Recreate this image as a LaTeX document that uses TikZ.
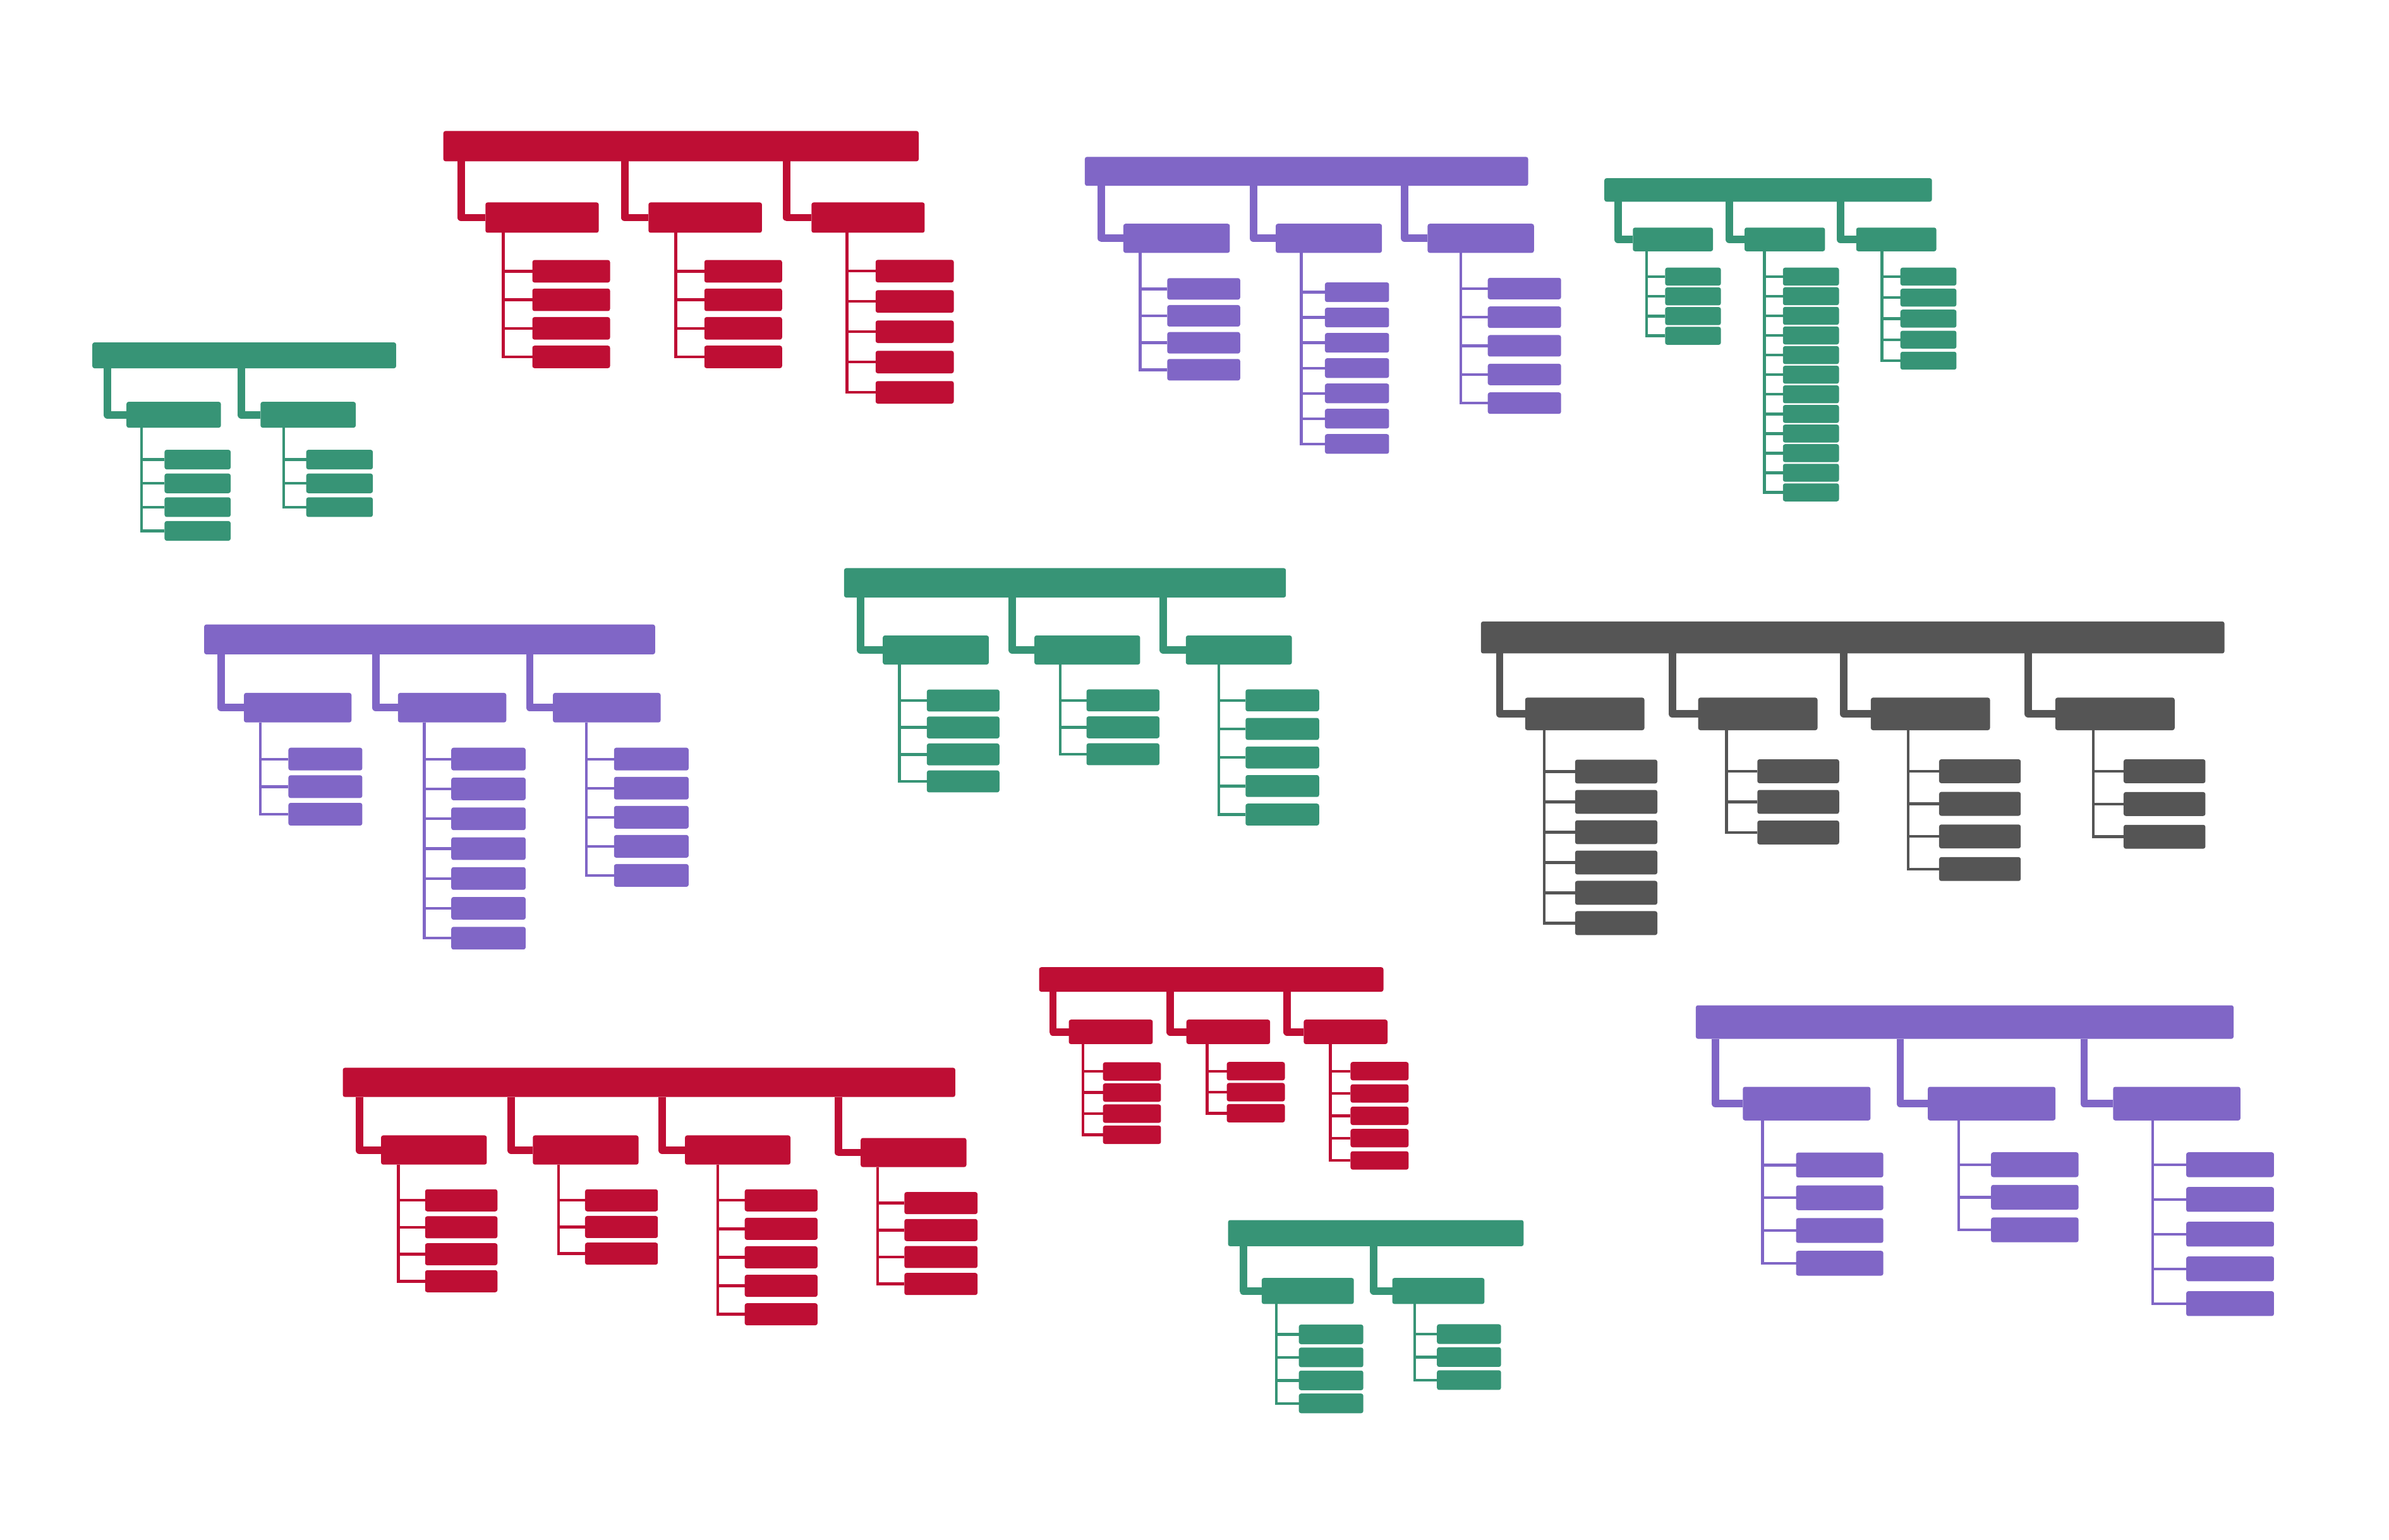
\documentclass[tikz,border=0pt]{standalone}
\usepackage{tikz}
\definecolor{redc}{RGB}{190,14,52}
\definecolor{purc}{RGB}{128,102,198}
\definecolor{grnc}{RGB}{55,148,118}
\definecolor{gryc}{RGB}{85,85,85}

\tikzset{
  orgbox/.style={fill=#1, rounded corners=1pt, inner sep=0pt, outer sep=0pt},
  bus/.style={draw=#1, line width=3.5pt, line join=round},
  twig/.style={draw=#1, line width=1.3pt},
}

% box from its corners: colour, name, x1, y1, x2, y2
\newcommand\orgbox[6]{\node[orgbox=#1, minimum width={((#5)-(#3))*0.25mm},
  minimum height={((#6)-(#4))*0.25mm}] (#2) at ({((#3)+(#5))/2},{((#4)+(#6))/2}) {};}
% child box and its elbow from the root: colour, root, name, x1, x2, elbow x, y1, y2
\newcommand\kid[8]{\orgbox{#1}{#3}{#4}{#7}{#5}{#8}
  \coordinate (#3e) at (#6,0);
  \draw[bus=#1] (#2.south -| #3e) |- (#3.west);}
% leaf column under a child: colour, child, trunk x, x1, x2, first top, height, pitch, count
\newcommand\twigs[9]{\coordinate (#2t) at (#3,0);
  \foreach \i in {1,...,#9}{
    \orgbox{#1}{#2-\i}{#4}{#6+(\i-1)*#8}{#5}{#6+(\i-1)*#8+#7}
    \draw[twig=#1] (#2.south -| #2t) |- (#2-\i.west);}}

\begin{document}
\begin{tikzpicture}[x=0.25mm, y=-0.25mm]
  \useasboundingbox (0,0) rectangle (1568,1011);

  % green, top left
  \orgbox{grnc}{ga}{60.6}{224.8}{260}{241.8}
  \kid{grnc}{ga}{ga1}{83}{145}{70.5}{263.8}{280.8}
  \kid{grnc}{ga}{ga2}{171}{233.5}{158.4}{263.8}{280.8}
  \twigs{grnc}{ga1}{92.9}{108}{151.4}{295.3}{12.9}{15.6}{4}
  \twigs{grnc}{ga2}{186.2}{201}{244.7}{295.3}{12.9}{15.6}{3}

  % red, top
  \orgbox{redc}{rb}{291}{86}{603}{105.9}
  \kid{redc}{rb}{rb1}{318.6}{393.0}{302.7}{132.9}{152.8}
  \kid{redc}{rb}{rb2}{425.6}{500.1}{410.0}{132.9}{152.8}
  \kid{redc}{rb}{rb3}{532.6}{606.9}{516.4}{132.9}{152.8}
  \twigs{redc}{rb1}{330.3}{349.4}{400.4}{170.7}{14.8}{18.74}{4}
  \twigs{redc}{rb2}{443.6}{462.3}{513.3}{170.7}{14.8}{18.74}{4}
  \twigs{redc}{rb3}{555.9}{574.7}{626.0}{170.6}{14.8}{19.9}{5}

  % purple, top
  \orgbox{purc}{pc}{712}{103}{1003}{122}
  \kid{purc}{pc}{pc1}{737.3}{807.2}{722.9}{146.9}{166.0}
  \kid{purc}{pc}{pc2}{837.3}{907.0}{822.7}{146.9}{166.0}
  \kid{purc}{pc}{pc3}{937.0}{1006.8}{922.0}{146.9}{166.0}
  \twigs{purc}{pc1}{748.4}{766.1}{814.0}{182.6}{14.1}{17.7}{4}
  \twigs{purc}{pc2}{854.1}{869.6}{911.7}{185.4}{12.9}{16.6}{7}
  \twigs{purc}{pc3}{958.8}{976.5}{1024.6}{182.4}{14.1}{18.8}{5}

  % green, top right
  \orgbox{grnc}{gd}{1053}{117}{1268}{132.4}
  \kid{grnc}{gd}{gd1}{1071.7}{1124.3}{1061.9}{149.4}{165.0}
  \kid{grnc}{gd}{gd2}{1145.0}{1197.8}{1135.0}{149.4}{165.0}
  \kid{grnc}{gd}{gd3}{1218.3}{1270.9}{1208.0}{149.4}{165.0}
  \twigs{grnc}{gd1}{1080.6}{1092.9}{1129.5}{175.7}{11.8}{12.96}{4}
  \twigs{grnc}{gd2}{1158.0}{1170.2}{1207.0}{175.7}{11.8}{12.88}{12}
  \twigs{grnc}{gd3}{1235.2}{1247.3}{1284.1}{175.7}{11.8}{13.8}{5}

  % purple, middle left
  \orgbox{purc}{pe}{134}{410}{430}{429.6}
  \kid{purc}{pe}{pe1}{160.1}{230.7}{145.3}{454.9}{474.3}
  \kid{purc}{pe}{pe2}{261.2}{332.3}{246.6}{454.9}{474.3}
  \kid{purc}{pe}{pe3}{362.9}{433.6}{347.7}{454.9}{474.3}
  \twigs{purc}{pe1}{170.9}{189.3}{237.8}{490.9}{14.9}{18.1}{3}
  \twigs{purc}{pe2}{278.5}{296.2}{345.0}{490.9}{14.9}{19.6}{7}
  \twigs{purc}{pe3}{384.8}{403.0}{452.0}{490.9}{14.9}{19.1}{5}

  % green, centre
  \orgbox{grnc}{gf}{554}{373}{844}{392.3}
  \kid{grnc}{gf}{gf1}{579.4}{649.0}{565.0}{417.2}{436.3}
  \kid{grnc}{gf}{gf2}{678.9}{748.3}{664.5}{417.2}{436.3}
  \kid{grnc}{gf}{gf3}{778.3}{847.9}{763.6}{417.2}{436.3}
  \twigs{grnc}{gf1}{590.4}{608.3}{656.0}{452.7}{14.4}{17.7}{4}
  \twigs{grnc}{gf2}{695.8}{713.1}{761.0}{452.6}{14.4}{17.7}{3}
  \twigs{grnc}{gf3}{800.0}{817.5}{865.8}{452.6}{14.4}{18.75}{5}

  % grey, middle right
  \orgbox{gryc}{kg}{972}{408}{1460}{429}
  \kid{gryc}{kg}{kg1}{1001.0}{1079.3}{984.3}{458.0}{479.4}
  \kid{gryc}{kg}{kg2}{1114.6}{1192.9}{1097.6}{458.0}{479.4}
  \kid{gryc}{kg}{kg3}{1227.9}{1306.1}{1210.2}{458.0}{479.4}
  \kid{gryc}{kg}{kg4}{1349.0}{1427.3}{1331.3}{458.0}{479.4}
  \twigs{gryc}{kg1}{1013.6}{1033.8}{1087.8}{498.7}{15.7}{19.9}{6}
  \twigs{gryc}{kg2}{1133.2}{1153.4}{1207.1}{498.5}{15.7}{20.1}{3}
  \twigs{gryc}{kg3}{1252.5}{1272.7}{1326.3}{498.5}{15.7}{21.4}{4}
  \twigs{gryc}{kg4}{1373.9}{1393.8}{1447.5}{498.5}{15.7}{21.5}{3}

  % red, bottom left
  \orgbox{redc}{rh}{225}{701}{627}{720.2}
  \kid{redc}{rh}{rh1}{250.1}{319.5}{235.8}{745.4}{764.6}
  \kid{redc}{rh}{rh2}{349.7}{419.1}{335.4}{745.4}{764.6}
  \kid{redc}{rh}{rh3}{449.6}{518.8}{434.5}{745.4}{764.6}
  \kid{redc}{rh}{rh4}{564.9}{634.3}{550.4}{747.1}{766.2}
  \twigs{redc}{rh1}{261.5}{279.0}{326.5}{780.8}{14.5}{17.7}{4}
  \twigs{redc}{rh2}{366.5}{384.0}{431.8}{780.8}{14.5}{17.5}{3}
  \twigs{redc}{rh3}{471.2}{488.8}{536.6}{780.8}{14.5}{18.7}{5}
  \twigs{redc}{rh4}{576.0}{593.6}{641.6}{782.6}{14.5}{17.7}{4}

  % red, bottom centre
  \orgbox{redc}{ri}{682}{635}{908}{651.1}
  \kid{redc}{ri}{ri1}{701.5}{756.6}{691.1}{669.4}{685.5}
  \kid{redc}{ri}{ri2}{778.7}{833.6}{768.1}{669.4}{685.5}
  \kid{redc}{ri}{ri3}{855.7}{910.7}{844.8}{669.4}{685.5}
  \twigs{redc}{ri1}{710.8}{723.9}{762.0}{697.4}{12.1}{13.85}{4}
  \twigs{redc}{ri2}{792.3}{805.2}{843.3}{697.2}{12.1}{13.8}{3}
  \twigs{redc}{ri3}{873.1}{886.4}{924.5}{697.2}{12.1}{14.65}{5}

  % green, bottom
  \orgbox{grnc}{gj}{806}{801}{1000}{818.2}
  \kid{grnc}{gj}{gj1}{828.1}{888.6}{816.0}{839.0}{856.1}
  \kid{grnc}{gj}{gj2}{913.8}{974.3}{901.7}{839.0}{856.1}
  \twigs{grnc}{gj1}{837.7}{852.5}{894.8}{869.6}{12.9}{15.1}{4}
  \twigs{grnc}{gj2}{928.5}{943.1}{985.2}{869.4}{12.9}{15.1}{3}

  % purple, bottom right
  \orgbox{purc}{pk}{1113}{660}{1466}{682}
  \kid{purc}{pk}{pk1}{1143.9}{1227.7}{1125.9}{713.5}{735.6}
  \kid{purc}{pk}{pk2}{1265.3}{1349.1}{1247.2}{713.5}{735.6}
  \kid{purc}{pk}{pk3}{1386.9}{1470.5}{1367.9}{713.5}{735.6}
  \twigs{purc}{pk1}{1156.8}{1178.8}{1236.1}{756.7}{16.3}{21.5}{4}
  \twigs{purc}{pk2}{1285.5}{1306.8}{1364.2}{756.5}{16.3}{21.4}{3}
  \twigs{purc}{pk3}{1412.8}{1434.9}{1492.5}{756.5}{16.3}{22.8}{5}
\end{tikzpicture}
\end{document}
